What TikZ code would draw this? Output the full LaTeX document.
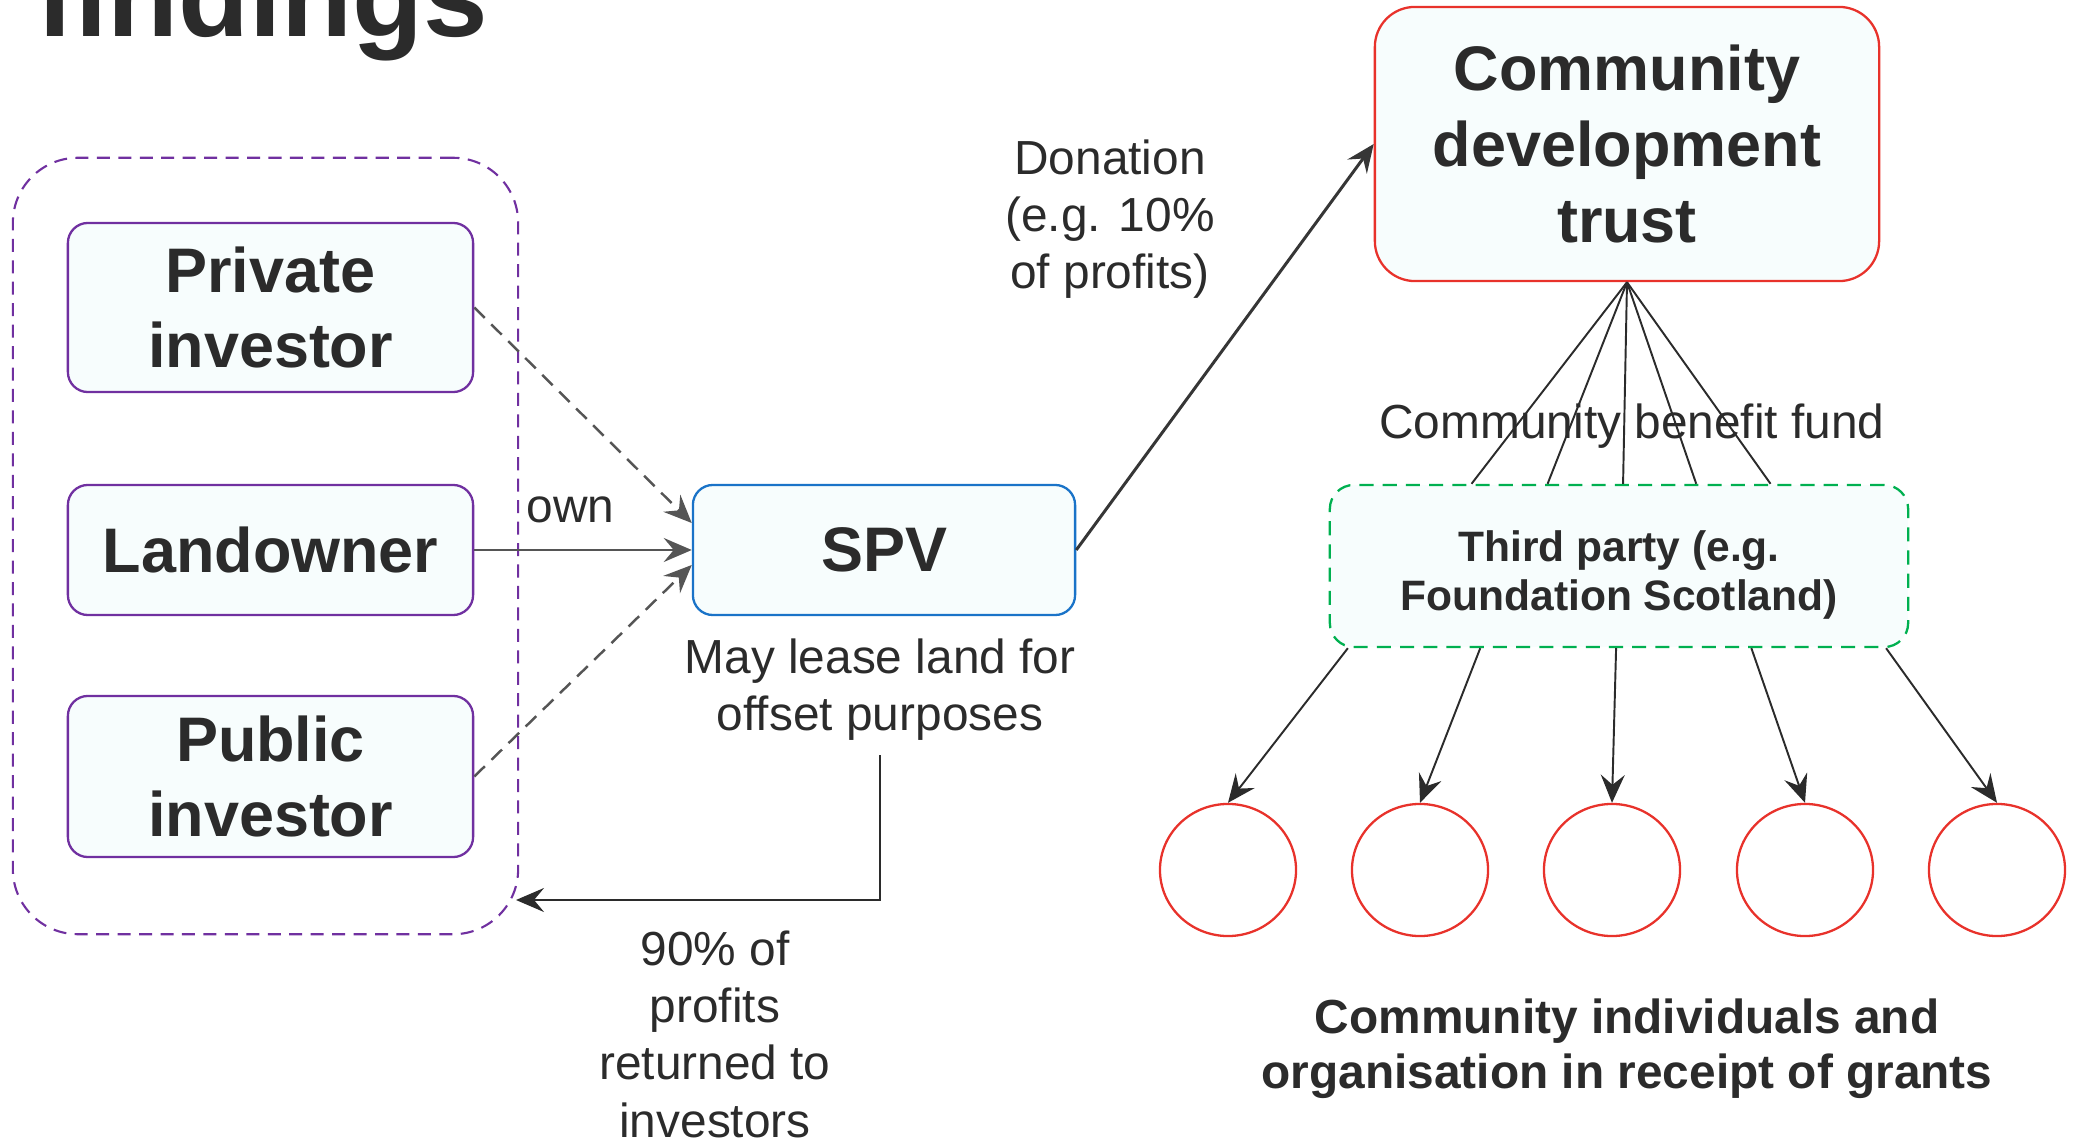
\documentclass[tikz,border=0pt]{standalone}
\usepackage{fontspec}
\setmainfont{Liberation Sans}
\usepackage{tikz}
\usetikzlibrary{arrows.meta,%
                shapes.geometric,%
                calc}
\usepackage{color}
\definecolor{Ink}{HTML}{2B2B2B}
\definecolor{Plum}{HTML}{7030A0}
\definecolor{Azure}{HTML}{1A73C8}
\definecolor{Scarlet}{HTML}{E8322B}
\definecolor{Leaf}{HTML}{00B050}
\definecolor{Mist}{HTML}{F7FDFD}

\begin{document}
\begin{tikzpicture}[x=0.01cm,y=-0.01cm]
  \useasboundingbox (0,0) rectangle (2078,1143);
  \clip (0,0) rectangle (2078,1143);

  \tikzstyle{BoxStyle}=[draw,rounded corners=2mm,fill=Mist,line width=0.65pt,
    text=Ink,align=center,inner sep=0pt,
    font=\bfseries\fontsize{17.9}{21.6}\selectfont]
  \tikzstyle{LabelStyle}=[text=Ink,align=center,inner sep=0pt,
    font=\fontsize{13.6}{16.2}\selectfont]
  \tikzstyle{GrantStyle}=[ellipse,draw=Scarlet,line width=0.65pt,
    minimum width=1.36cm,minimum height=1.32cm]
  \tikzstyle{EdgeStyle}=[line width=0.7pt,
    -{Stealth[length=2.8mm,width=2.4mm,inset=1mm]}]

  \node[anchor=base west,text=Ink,font=\bfseries\fontsize{33}{33}\selectfont]
    (Title) at (24,37) {findings};

  % owners of the SPV
  \node[draw=Plum,dash pattern=on 3.7pt off 2.4pt,line width=0.6pt,
        rounded corners=6.5mm,minimum width=5.05cm,minimum height=7.76cm]
    (Owners) at (265.5,546) {};
  \node[BoxStyle,draw=Plum,minimum width=4.05cm,minimum height=1.69cm]
    (Private) at (270.5,307.5) {Private\\investor};
  \node[BoxStyle,draw=Plum,minimum width=4.05cm,minimum height=1.30cm]
    (Land) at (270.5,550) {Landowner};
  \node[BoxStyle,draw=Plum,minimum width=4.05cm,minimum height=1.61cm]
    (Public) at (270.5,776.5) {Public\\investor};

  \node[BoxStyle,draw=Azure,minimum width=3.82cm,minimum height=1.30cm]
    (SPV) at (884,550) {SPV};
  \node[LabelStyle] (Lease) at (880,690) {May lease land for\\offset purposes};

  \draw[EdgeStyle,draw=Ink!80,dash pattern=on 4.2pt off 2.6pt]
    (Private.east) -- ($(SPV.west)+(0,-27)$);
  \draw[EdgeStyle,draw=Ink!80] (Land.east) -- (SPV.west);
  \draw[EdgeStyle,draw=Ink!80,dash pattern=on 4.2pt off 2.6pt]
    (Public.east) -- ($(SPV.west)+(0,15)$);
  \node[LabelStyle,anchor=base west] (Own) at (526,523) {own};

  % profits back to the investors
  \coordinate (Back) at (516,900);
  \draw[EdgeStyle,draw=Ink] ($(Lease.south)+(0,14)$) |- (Back);
  \node[LabelStyle,font=\fontsize{13.6}{16.3}\selectfont]
    (Profit) at (715,1034) {90\% of\\profits\\returned to\\investors};

  % trust and fund
  \node[BoxStyle,draw=Scarlet,rounded corners=4mm,minimum width=5.04cm,
        minimum height=2.74cm]
    (Trust) at (1627,144) {Community\\development\\trust};
  \draw[EdgeStyle,draw=Ink!95,line width=0.85pt] (SPV.east) -- (Trust.west);
  \node[LabelStyle] (Donation) at (1110,219.5) {Donation\\(e.g. 10\%\\of profits)};

  \node[BoxStyle,draw=Leaf,dash pattern=on 4pt off 2.6pt,rounded corners=2.4mm,
        minimum width=5.78cm,minimum height=1.62cm]
    (Third) at (1619,566) {};
  \node[LabelStyle,font=\bfseries\fontsize{12.1}{14.2}\selectfont]
    (Party) at (1619,575) {Third party (e.g.\\Foundation Scotland)};
  \foreach \f in {0.246,0.377,0.507,0.633,0.761}
    \draw[Ink,line width=0.55pt] (Trust.south) -- ($(Third.north west)!\f!(Third.north east)$);
  \node[LabelStyle,anchor=base] (Fund) at (1632,439) {Community benefit fund};

  % grant receivers
  \foreach \i/\x/\f in {1/1228/0.033,2/1420/0.261,3/1612/0.495,4/1805/0.728,5/1997/0.96}{
    \node[GrantStyle] (G\i) at (\x,870) {};
    \draw[EdgeStyle,draw=Ink,line width=0.55pt]
      ($(Third.south west)!\f!(Third.south east)$) -- (G\i.north);
  }
  \node[LabelStyle,font=\bfseries\fontsize{13.6}{15.6}\selectfont]
    (Grants) at (1627,1049) {Community individuals and\\organisation in receipt of grants};
\end{tikzpicture}
\end{document}
